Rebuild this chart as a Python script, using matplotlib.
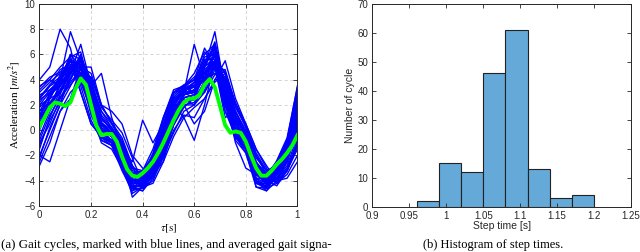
import numpy as np
import matplotlib
matplotlib.use("Agg")
import matplotlib.pyplot as plt
from matplotlib.ticker import FuncFormatter

plt.rcParams['mathtext.fontset'] = 'stix'
plt.rcParams['font.family'] = 'Liberation Sans'

# ---- (a) gait cycles ----
# averaged gait signal, sampled every 0.02 s
tau_mean = np.arange(0, 51) * 0.02
acc_mean = [0.3, 1.0, 1.8, 2.2, 2.1, 1.9, 2.2, 3.3, 4.1, 3.6,
            2.0, 0.4, -0.4, -0.3, -0.3, -0.9, -2.1, -3.1, -3.6, -3.7,
            -3.4, -3.0, -2.5, -1.8, -1.0, -0.1, 0.8, 1.6, 2.2, 2.5,
            2.5, 2.8, 3.6, 4.05, 3.4, 1.9, 0.4, -0.2, -0.1, -0.2,
            -0.9, -2.0, -3.0, -3.6, -3.6, -3.2, -2.7, -2.3, -1.8, -1.2,
            -0.4]

# individual gait cycles, sampled every 0.04 s
tau_cyc = np.arange(0, 26) * 0.04
cycles = [
    [3.5, 4.0, 5.0, 5.8, 4.0, 1.5, 0.0, -0.5, -2.5, -4.5, -4.0, -2.0, 1.0, 3.2, 3.5, 4.5, 6.2, 5.0, 1.5, -0.5, -1.5, -4.2, -4.2, -2.5, -0.8, 3.5],
    [-2.5, -0.5, 1.5, 2.5, 4.5, 4.2, 1.8, 0.8, -0.2, -2.2, -4.2, -3.8, -2.2, 0.0, 1.2, 1.0, 2.5, 4.0, 4.2, 1.8, 0.3, -1.8, -3.2, -4.0, -3.2, -1.5],
    [1.0, 3.0, 4.2, 5.5, 3.5, 0.8, -0.8, -1.2, -2.8, -4.8, -4.5, -3.0, -0.5, 2.2, 3.0, 3.0, 5.5, 6.5, 2.5, -0.8, -1.8, -4.5, -4.6, -3.2, -1.8, 1.5],
    [2.0, 2.5, 3.0, 4.0, 5.5, 3.8, 1.0, 0.0, -1.2, -3.2, -3.5, -2.8, -1.0, 1.5, 3.0, 3.8, 4.5, 5.2, 4.0, 1.2, -0.5, -2.5, -3.5, -3.0, -1.5, 2.0],
    [-1.5, 1.0, 2.8, 5.0, 5.5, 2.5, -0.5, -1.0, -2.5, -4.5, -4.8, -3.5, -1.5, 1.0, 2.5, 2.0, 4.0, 6.5, 3.0, -0.2, -1.5, -4.0, -4.5, -3.8, -2.5, 0.5],
    [3.0, 3.8, 4.5, 5.0, 4.5, 2.5, 0.5, -0.2, -1.8, -3.8, -3.2, -1.5, 1.0, 3.0, 3.5, 4.2, 5.0, 5.8, 3.0, 0.5, -0.5, -3.0, -3.5, -2.5, -0.8, 3.0],
    [0.0, 2.0, 3.5, 6.0, 5.0, 1.5, -1.0, -1.5, -3.0, -5.0, -4.5, -3.2, -1.0, 1.8, 3.2, 2.8, 5.0, 7.0, 3.5, 0.0, -1.2, -4.5, -4.8, -3.5, -2.0, 0.8],
    [-2.0, 0.0, 2.0, 3.5, 5.0, 4.5, 2.0, 0.5, -1.0, -3.0, -4.0, -3.8, -2.0, -0.2, 1.5, 2.0, 3.0, 4.8, 4.8, 2.0, 0.2, -2.0, -3.5, -4.2, -3.2, -1.0],
    [2.5, 3.5, 4.8, 5.2, 3.0, 0.5, -0.5, -0.8, -2.2, -4.2, -4.2, -2.5, 0.2, 2.8, 3.5, 3.5, 5.8, 6.0, 2.0, -0.5, -1.0, -3.8, -4.2, -2.8, -1.0, 2.5],
    [1.5, 2.2, 3.2, 4.5, 6.0, 3.2, 0.2, -0.5, -2.0, -4.0, -3.8, -3.0, -0.8, 1.2, 2.8, 3.2, 4.2, 6.0, 3.8, 0.8, -0.8, -3.2, -4.0, -3.5, -2.2, 0.5],
    [-0.5, 1.5, 3.0, 4.8, 4.2, 2.0, 0.5, -0.2, -1.5, -3.5, -4.2, -3.5, -1.5, 0.8, 2.2, 2.5, 3.8, 5.2, 3.2, 1.0, -0.2, -2.8, -3.8, -3.8, -2.8, -0.5],
    [3.2, 4.0, 3.5, 4.8, 5.8, 2.2, -0.8, -1.2, -3.2, -4.8, -4.0, -2.2, 0.5, 3.0, 3.2, 3.8, 6.0, 6.8, 2.8, -0.5, -1.8, -4.2, -4.0, -2.5, -1.0, 3.2],
    [-2.8, -1.0, 1.5, 3.0, 3.8, 3.5, 1.5, 0.2, -1.0, -2.8, -4.5, -4.2, -2.5, -0.5, 1.0, 1.8, 2.5, 3.8, 4.5, 2.0, 0.5, -1.5, -3.0, -4.2, -3.5, -2.0],
    [0.5, 2.5, 4.0, 5.2, 4.8, 2.8, 0.8, 0.2, -1.2, -3.5, -3.8, -2.8, -0.8, 1.5, 2.8, 3.5, 4.8, 5.5, 3.2, 0.8, -0.2, -2.8, -3.8, -3.2, -2.0, 0.8],
    [2.2, 3.2, 4.0, 5.8, 6.2, 3.0, 0.0, -0.8, -2.5, -4.5, -4.4, -3.0, -0.2, 2.2, 3.4, 3.0, 5.2, 6.8, 3.0, -0.2, -1.5, -4.2, -4.4, -3.2, -1.5, 2.2],
    [1.0, 2.0, 2.5, 3.8, 4.8, 3.8, 1.5, 0.5, -0.8, -3.0, -3.2, -2.2, -0.5, 2.0, 3.2, 3.6, 4.0, 4.5, 3.6, 1.5, 0.0, -2.2, -3.2, -2.8, -1.8, 1.2],
    [4.0, 5.0, 8.0, 6.5, 3.0, 0.5, -0.5, -1.0, -2.5, -4.0, -3.5, -2.5, 0.0, 2.5, 3.0, 2.5, 4.5, 5.5, 2.0, 0.0, -1.0, -3.5, -4.0, -3.0, -1.5, 1.5],
    [1.0, 2.5, 4.0, 7.8, 5.5, 2.0, 0.0, -0.5, -2.0, -5.3, -4.5, -3.5, -1.0, 1.5, 2.8, 3.0, 5.0, 7.8, 3.0, 0.5, -1.0, -4.0, -4.8, -4.0, -2.5, 0.5],
    [2.0, 3.0, 3.5, 4.5, 6.8, 3.5, 4.5, 1.0, -1.5, -2.5, 0.8, -1.0, 0.5, 2.0, 3.5, 4.0, 6.5, 5.0, 1.0, 1.5, -0.5, -3.5, -4.2, -3.5, -2.0, 1.0],
    [-2.0, -2.5, 0.0, 2.5, 5.0, 5.0, 2.0, 1.5, 0.5, -2.0, -3.0, -3.5, -2.5, 0.5, 2.0, 0.5, 1.5, 4.0, 5.5, 2.5, 0.5, -1.5, -2.8, -4.0, -3.8, -2.5],
    [2.5, 3.5, 4.0, 5.0, 4.0, 2.0, 0.0, -0.5, -2.0, -4.2, -4.0, -2.5, 0.0, 2.5, 3.0, 6.8, 4.0, 5.5, 1.5, 0.0, -1.0, -3.5, -4.0, -3.0, -1.5, 2.0],
    [1.5, 2.8, 3.5, 5.0, 5.0, 2.5, 0.2, -0.5, -2.0, -4.0, -4.0, -2.8, -0.5, 2.0, 1.0, -0.8, 2.0, 5.5, 4.5, 1.0, -0.5, -3.0, -4.0, -3.2, -1.8, 1.0],
    [0.5, 2.0, 3.5, 5.0, 4.5, 2.0, 0.0, -0.5, -2.2, -4.2, -4.2, -3.0, -1.0, 1.5, 2.8, 3.2, 4.5, 5.5, 2.5, -1.0, -3.0, -3.5, -4.2, -3.8, -2.5, 0.0],
    [-1.0, 0.5, 2.5, 4.2, 5.2, 3.8, 1.2, 0.2, -1.2, -3.5, -4.6, -4.0, -2.0, 0.5, 2.0, 2.2, 3.5, 5.0, 4.2, 1.5, -0.2, -2.5, -4.0, -4.4, -3.2, -1.2],
    [2.8, 3.2, 3.8, 5.5, 5.2, 2.0, -0.2, -1.0, -2.6, -4.6, -4.2, -2.6, 0.0, 2.6, 3.4, 3.4, 5.4, 6.2, 2.4, -0.4, -1.4, -4.0, -4.3, -3.0, -1.2, 2.6],
    [0.2, 1.8, 3.2, 4.6, 5.4, 3.0, 0.4, -0.4, -1.8, -4.0, -4.3, -3.3, -1.2, 1.2, 2.6, 2.8, 4.2, 6.0, 3.6, 0.6, -0.8, -3.4, -4.2, -3.6, -2.4, 0.2],
    [1.8, 2.6, 4.4, 5.0, 3.8, 1.6, 0.2, -0.4, -1.6, -3.6, -3.6, -2.4, -0.2, 2.2, 3.0, 3.8, 5.2, 5.2, 2.2, 0.2, -0.8, -3.0, -3.6, -2.8, -1.4, 1.8],
    [-1.2, 0.8, 2.2, 4.0, 5.8, 4.0, 1.0, 0.0, -1.6, -3.8, -4.6, -3.6, -1.6, 0.6, 2.2, 2.4, 3.2, 5.6, 4.6, 1.2, -0.6, -3.0, -4.2, -4.0, -3.0, -0.8],
    [3.4, 4.2, 4.6, 5.4, 4.4, 1.2, -0.6, -1.2, -2.8, -4.4, -3.6, -1.8, 0.8, 3.0, 3.6, 4.0, 5.6, 5.6, 2.0, -0.6, -1.4, -3.8, -3.8, -2.4, -0.6, 3.4],
    [0.8, 2.2, 3.0, 4.4, 5.0, 3.4, 1.0, 0.0, -1.4, -3.4, -3.6, -2.8, -0.8, 1.6, 2.8, 3.2, 4.0, 5.0, 3.8, 1.0, -0.4, -2.6, -3.6, -3.4, -2.2, 0.6],
    [-2.2, 0.2, 2.0, 4.6, 5.6, 3.4, 0.6, -0.4, -2.2, -4.6, -4.8, -3.8, -1.8, 0.4, 2.0, 2.0, 3.6, 6.2, 3.8, 0.4, -1.0, -3.8, -4.6, -4.2, -3.2, -1.2],
    [2.4, 3.0, 3.6, 4.8, 5.6, 2.8, 0.6, -0.2, -1.8, -4.0, -3.8, -2.6, -0.2, 2.4, 3.2, 3.4, 4.6, 6.0, 3.4, 0.6, -0.6, -3.4, -3.9, -3.0, -1.6, 2.4],
    [0.6, 1.6, 3.8, 5.6, 4.4, 1.4, -0.6, -1.0, -2.4, -4.4, -4.4, -3.2, -0.8, 1.8, 2.6, 2.6, 5.0, 6.6, 2.6, -0.4, -1.6, -4.2, -4.4, -3.4, -2.2, 0.6],
    [-0.8, 1.2, 2.6, 3.6, 4.6, 4.2, 2.0, 0.6, -0.6, -2.8, -3.8, -3.4, -1.8, 0.4, 1.8, 2.6, 3.0, 4.4, 4.6, 2.2, 0.4, -2.0, -3.2, -3.8, -3.0, -1.2],
    [1.2, 2.8, 4.0, 6.0, 5.6, 2.4, -0.2, -0.8, -2.4, -4.6, -4.6, -3.0, -0.6, 2.0, 3.0, 3.0, 5.0, 6.8, 3.2, -0.2, -1.2, -4.2, -4.6, -3.4, -1.8, 1.2],
    [2.6, 3.6, 4.2, 4.6, 4.0, 2.2, 0.6, 0.0, -1.4, -3.4, -3.2, -2.0, 0.4, 2.6, 3.4, 4.0, 4.6, 5.0, 2.8, 0.8, -0.2, -2.6, -3.4, -2.6, -1.2, 2.8],
]

# ---- (b) histogram of step times ----
bin_edges = [0.96, 0.99, 1.02, 1.05, 1.08, 1.11, 1.14, 1.17, 1.20]
bin_counts = [2, 15, 12, 46, 61, 13, 3, 4]

TXT = '#262626'


def matlab_axes(ax):
    for s in ax.spines.values():
        s.set_color(TXT)
        s.set_linewidth(0.7)
    ax.tick_params(direction='in', top=True, right=True, length=3, width=0.6,
                   colors=TXT, labelsize=7, pad=3)


fig = plt.figure(figsize=(6.4, 2.52), dpi=100)

ax1 = fig.add_axes([0.0617, 0.1825, 0.403, 0.802])
for c in cycles:
    ax1.plot(tau_cyc, c, color='#0000ff', lw=1.0)
ax1.plot(tau_mean, acc_mean, color='#00ff00', lw=2.8)
ax1.set_xlim(0, 1)
ax1.set_ylim(-6, 10)
ax1.set_xticks(np.arange(0, 1.01, 0.2))
ax1.set_yticks(np.arange(-6, 11, 2))
ax1.xaxis.set_major_formatter(FuncFormatter(lambda v, p: '%g' % round(v, 2)))
ax1.grid(True, color='#d0d0d0', linestyle=(0, (4, 3)), linewidth=0.6)
ax1.set_axisbelow(True)
matlab_axes(ax1)
ax1.set_ylabel('Acceleration $[m/s^2]$', family='Liberation Serif', fontsize=8, labelpad=1)
ax1.set_xlabel(r'$\tau[\mathrm{s}]$', fontsize=8, labelpad=2)

ax2 = fig.add_axes([0.582, 0.179, 0.404, 0.806])
widths = np.diff(bin_edges)
ax2.bar(bin_edges[:-1], bin_counts, width=widths, align='edge',
        color='#64a9d8', edgecolor='#222222', linewidth=0.8)
ax2.set_xlim(0.9, 1.25)
ax2.set_ylim(0, 70)
ax2.set_xticks(np.arange(0.9, 1.2501, 0.05))
ax2.set_yticks(np.arange(0, 71, 10))
ax2.xaxis.set_major_formatter(FuncFormatter(lambda v, p: '%g' % round(v, 2)))
matlab_axes(ax2)
ax2.set_ylabel('Number of cycle', fontsize=7.5, color=TXT, labelpad=2)
ax2.set_xlabel('Step time [s]', fontsize=7.5, color=TXT, labelpad=0)

fig.text(0.002, 0.028, '(a) Gait cycles, marked with blue lines, and averaged gait signa-',
         ha='left', va='center', family='Liberation Serif', fontsize=9.3)
fig.text(0.770, 0.028, '(b) Histogram of step times.',
         ha='center', va='center', family='Liberation Serif', fontsize=9)

fig.savefig('out.png', dpi=100)
